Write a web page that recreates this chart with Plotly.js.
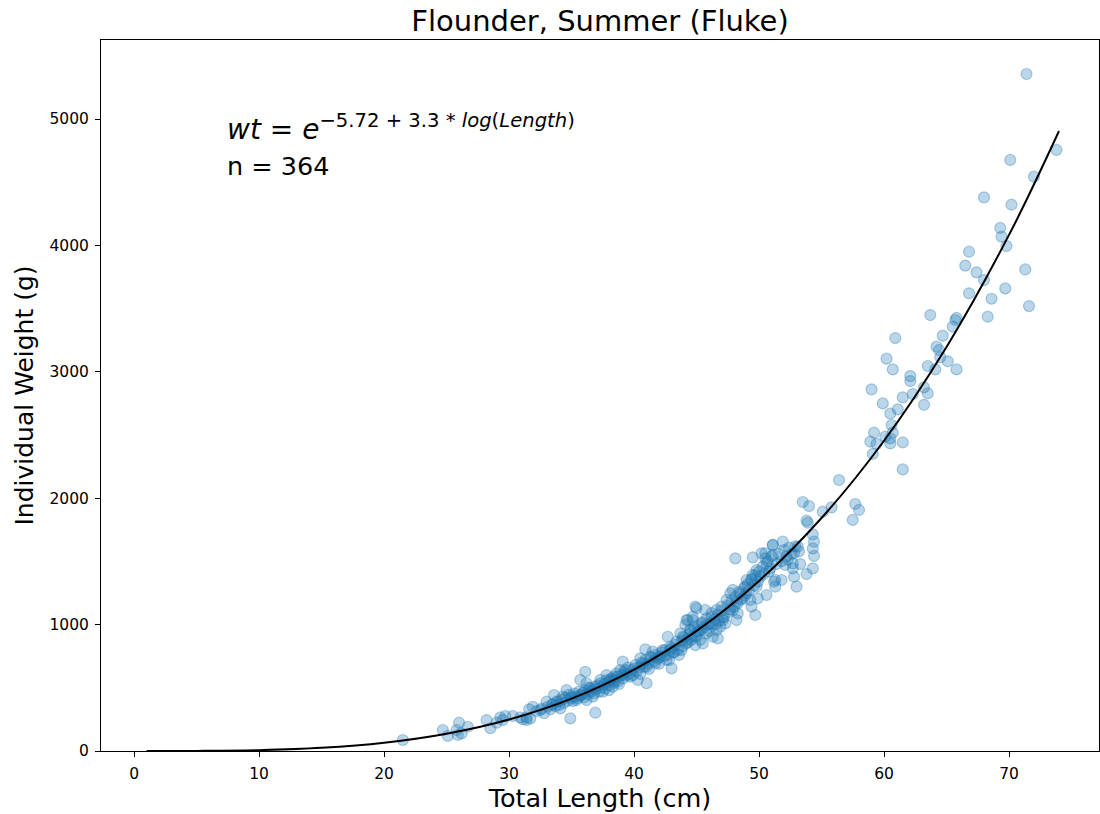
<!DOCTYPE html>
<html>
<head>
<meta charset="utf-8">
<script src="https://cdn.plot.ly/plotly-3.0.1.min.js"></script>
<style>html,body{margin:0;padding:0;background:#fff;}#chart{width:1100px;height:814px;}</style>
</head>
<body>
<div id="chart"></div>
<script>
const lengths = [
 21.5,24.7,25.1,25.8,26.0,25.9,26.7,26.2,28.2,28.5,29.0,29.3,29.7,29.5,30.3,31.1,31.4,31.6,
 30.9,31.4,31.7,31.9,32.5,33.0,33.4,33.8,34.1,34.6,34.9,35.0,35.4,35.8,35.7,36.1,36.2,36.5,36.9,36.7,37.3,37.5,38.1,38.0,38.3,38.4,38.9,38.7,33.6,34.3,36.2,
 37.3,37.8,38.3,38.6,39.1,39.3,39.7,40.0,40.3,40.5,40.9,41.0,41.3,41.5,41.7,42.1,42.3,42.6,42.7,42.9,43.0,43.4,43.7,43.8,44.1,44.2,44.5,44.7,44.9,45.0,44.3,41.0,
 48.1,49.5,50.2,50.5,51.1,50.6,50.9,51.3,49.8,49.5,49.0,49.4,49.8,48.9,47.9,47.7,48.5,49.0,49.3,49.9,49.4,49.7,48.2,47.4,47.0,47.9,48.3,48.2,46.6,46.2,45.0,45.7,46.1,46.9,47.1,45.4,44.7,44.2,44.5,45.1,45.8,46.3,46.6,43.9,44.2,44.9,45.5,46.7,50.6,51.3,
 56.4,53.5,54.0,57.7,58.0,57.5,55.1,55.8,53.8,53.9,54.3,54.4,54.3,54.4,54.3,51.9,51.1,53.1,52.8,50.5,51.1,52.3,52.7,53.3,52.1,52.7,51.2,51.8,52.8,53.8,53.0,
 60.9,65.7,65.5,64.7,64.2,64.4,60.2,60.7,63.5,64.1,65.1,65.8,64.5,62.1,62.1,59.0,63.2,62.3,63.5,61.5,59.9,63.2,61.1,60.5,60.6,59.2,60.7,60.1,58.9,60.5,60.5,61.5,59.4,59.1,61.5,
 71.4,70.1,72.0,68.0,70.2,69.3,69.4,69.8,66.8,66.5,67.4,71.3,68.0,66.8,69.7,68.6,71.6,63.7,65.8,68.3,73.8,
 32.2,32.6,32.8,33.1,33.3,33.5,33.7,33.9,34.0,34.2,34.4,34.5,34.7,34.8,35.0,35.1,35.2,35.3,35.5,35.6,35.7,35.9,36.0,36.1,36.3,36.4,36.6,36.8,36.9,37.0,
 37.1,37.2,37.4,37.6,37.7,37.9,38.0,38.2,38.4,38.5,38.7,38.8,39.0,39.1,39.2,39.4,39.5,39.6,39.8,39.9,
 40.1,40.2,40.4,40.5,40.6,40.8,40.9,41.1,41.2,41.4,41.6,41.7,41.9,42.0,42.2,42.4,42.5,42.7,42.8,43.0,
 43.1,43.3,43.5,43.6,43.8,43.9,44.0,44.3,44.4,44.6,44.8,44.9,45.1,45.2,45.3,45.5,45.6,45.8,45.9,46.0,
 46.2,46.4,46.5,46.7,46.8,47.0,47.2,47.3,47.5,47.6,47.8,48.0,48.1,48.3,48.4,48.6,48.8,48.9,49.1,
 49.2,49.4,49.6,49.7,49.9,50.0,50.1,50.3,50.4,50.7,50.8,51.0,51.4,51.6,51.8,52.0,52.2,52.4,52.6,52.9,53.2,
 36.5,37.8,39.3,40.7,41.8,42.9,43.2,44.6,45.4,46.3,47.1,47.7,48.7
];
const weights = [
 87,166,119,166,224,127,192,139,245,180,224,266,277,245,277,251,266,330,
 266,245,258,350,324,390,364,390,337,482,258,430,403,443,562,627,536,482,303,430,536,469,562,482,509,588,641,548,443,430,403,
 562,601,562,615,707,641,588,654,562,733,804,667,746,786,694,746,799,720,904,825,654,865,930,799,997,878,957,1062,1142,904,1036,536,
 1524,1532,1564,1524,1630,1484,1445,1353,1432,1392,1353,1353,1300,1300,1274,1248,1248,1248,1195,1208,1142,1076,1181,1195,1142,1116,1089,1036,1116,1062,1129,1116,1010,983,1036,1010,1036,1036,957,943,930,904,957,904,851,838,851,891,1234,1300,
 2144,1970,1938,1954,1907,1828,1893,1927,1822,1806,1713,1656,1603,1543,1445,1656,1630,1617,1564,1564,1551,1516,1484,1479,1472,1445,1339,1353,1379,1400,1300,
 3267,3410,3357,3286,3199,3172,3104,3019,3046,3019,3083,3019,3115,2966,2927,2861,2877,2824,2830,2798,2750,2739,2703,2670,2579,2518,2518,2487,2447,2473,2433,2441,2429,2350,2228,
 5356,4676,4544,4380,4322,4138,4069,3995,3950,3840,3787,3810,3726,3621,3660,3578,3520,3449,3426,3436,4755,
 315,335,300,350,330,372,355,392,365,405,380,420,398,445,415,395,455,430,418,470,440,460,425,480,450,500,470,455,510,490,
 520,470,505,530,495,545,520,575,540,560,590,530,600,575,620,595,660,610,640,600,
 680,630,660,610,700,665,720,690,650,740,710,760,730,690,780,750,800,760,720,815,
 780,840,800,760,870,830,900,860,920,880,975,915,990,950,880,1020,980,1050,1000,950,
 1090,1040,1000,1080,1030,1110,1060,1010,1150,1100,1190,1140,1220,1170,1260,1200,1290,1230,1320,
 1270,1360,1310,1390,1340,1420,1380,1460,1400,1500,1420,1540,1480,1560,1500,1590,1540,1610,1560,1620,1580,
 500,560,610,690,740,800,780,900,960,1000,1060,1120,1210
];
// Fitted curve, sampled at these lengths
const fitLengths = [1, 5, 10, 15, 20, 25, 30, 35, 40, 45, 50, 55, 60, 65, 70, 74];
const fitWeights = [0.0033, 0.674, 6.64, 25.3, 65.4, 136.6, 249.3, 414.7, 644.3, 950.5, 1345.8, 1843.4, 2454.7, 3196.9, 4083, 4905];
const xTicks = [0, 10, 20, 30, 40, 50, 60, 70];
const yTicks = [0, 1000, 2000, 3000, 4000, 5000];
const chartTitle = 'Flounder, Summer (Fluke)';
const eqText = '<i>wt</i> = <i>e</i><sup>\u22125.72 + 3.3 * <i>log</i>(<i>Length</i>)</sup>';
const nText = 'n = 364';

const font = 'DejaVu Sans, Liberation Sans, sans-serif';
const traces = [
  {
    x: lengths, y: weights, type: 'scatter', mode: 'markers',
    marker: {color: 'rgba(31,119,180,0.3)', size: 11, line: {color: 'rgba(31,119,180,0.35)', width: 1.2}},
    hoverinfo: 'x+y', showlegend: false
  },
  {
    x: fitLengths, y: fitWeights, type: 'scatter', mode: 'lines',
    line: {color: '#000000', width: 2, shape: 'spline'},
    showlegend: false
  }
];
const axisCommon = {
  showgrid: false, zeroline: false, showline: true, linecolor: '#000', linewidth: 1,
  mirror: true, ticks: 'outside', ticklen: 5, tickwidth: 1, tickcolor: '#000',
  ticklabelstandoff: 3,
  tickfont: {family: font, size: 15.5, color: '#000'}
};
const layout = {
  width: 1100, height: 814,
  margin: {l: 101, r: 1, t: 40, b: 63},
  paper_bgcolor: '#fff', plot_bgcolor: '#fff',
  font: {family: font, color: '#000'},
  title: {text: chartTitle, font: {family: font, size: 29, color: '#000'}, x: 0.5455, xanchor: 'center', y: 0.975, yanchor: 'middle'},
  xaxis: Object.assign({}, axisCommon, {
    range: [-2.65, 77.2], tickvals: xTicks, ticktext: xTicks.map(String),
    title: {text: 'Total Length (cm)', font: {family: font, size: 25.5, color: '#000'}, standoff: 5}
  }),
  yaxis: Object.assign({}, axisCommon, {
    range: [0, 5625], tickvals: yTicks, ticktext: yTicks.map(String),
    title: {text: 'Individual Weight (g)', font: {family: font, size: 25, color: '#000'}, standoff: 8}
  }),
  annotations: [
    {text: eqText, xref: 'paper', yref: 'paper', x: 0.1245, y: 0.877, xanchor: 'left', yanchor: 'middle', showarrow: false, font: {family: font, size: 28, color: '#000'}},
    {text: nText, xref: 'paper', yref: 'paper', x: 0.1245, y: 0.823, xanchor: 'left', yanchor: 'middle', showarrow: false, font: {family: font, size: 25.5, color: '#000'}}
  ]
};
Plotly.newPlot('chart', traces, layout, {displayModeBar: false, staticPlot: true});
</script>
</body>
</html>
